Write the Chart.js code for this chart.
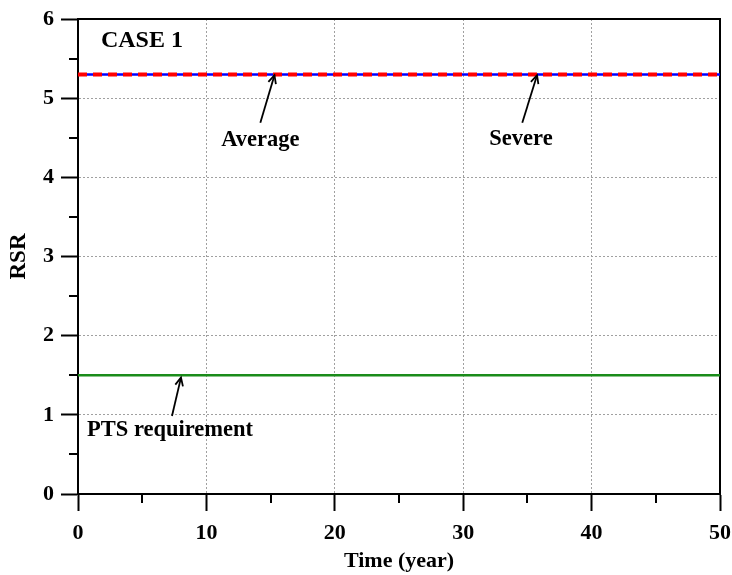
<!DOCTYPE html>
<html><head><meta charset="utf-8">
<script src="https://cdn.jsdelivr.net/npm/chart.js@4.4.1/dist/chart.umd.min.js"></script>
<style>html,body{margin:0;padding:0;background:#fff}#wrap{width:732px;height:575px;position:relative}</style>
</head><body><div id="wrap"><canvas id="c" width="732" height="575"></canvas></div>
<script>
const YEARS    = [0, 5, 10, 15, 20, 25, 30, 35, 40, 45, 50];
const AVERAGE  = [5.3, 5.3, 5.3, 5.3, 5.3, 5.3, 5.3, 5.3, 5.3, 5.3, 5.3];
const SEVERE   = [5.3, 5.3, 5.3, 5.3, 5.3, 5.3, 5.3, 5.3, 5.3, 5.3, 5.3];
const PTS_REQ  = [1.5, 1.5, 1.5, 1.5, 1.5, 1.5, 1.5, 1.5, 1.5, 1.5, 1.5];
const X_TICKS  = [0, 10, 20, 30, 40, 50];
const Y_TICKS  = [0, 1, 2, 3, 4, 5, 6];
const X_MINOR  = [5, 15, 25, 35, 45];
const Y_MINOR  = [0.5, 1.5, 2.5, 3.5, 4.5, 5.5];
const LABELS   = ['CASE 1', 'Average', 'Severe', 'PTS requirement'];
const LABEL_AT = [[4.98, 5.73], [14.2, 4.47], [34.5, 4.48], [7.17, 0.80]];
const ARROWS   = [null, [[14.2, 4.69], [15.3, 5.29]], [[34.6, 4.69], [35.75, 5.29]], [[7.32, 0.985], [8.02, 1.47]]];

const FONT = 'Liberation Serif, Times New Roman, serif';
const pts = arr => YEARS.map((t, i) => ({x: t, y: arr[i]}));

const extras = {
  id: 'extras',
  afterDatasetsDraw(chart) {
    const {ctx, scales: {x, y}, chartArea: a} = chart;
    ctx.save();
    ctx.strokeStyle = '#000';
    ctx.lineWidth = 2;
    X_MINOR.forEach(v => {
      const px = Math.round(x.getPixelForValue(v));
      ctx.beginPath(); ctx.moveTo(px, a.bottom); ctx.lineTo(px, a.bottom + 9); ctx.stroke();
    });
    Y_MINOR.forEach(v => {
      const py = Math.round(y.getPixelForValue(v));
      ctx.beginPath(); ctx.moveTo(a.left, py); ctx.lineTo(a.left - 9, py); ctx.stroke();
    });
    ctx.fillStyle = '#000';
    ctx.textAlign = 'center';
    ctx.textBaseline = 'middle';
    LABELS.forEach((t, i) => {
      ctx.font = 'bold ' + (i === 0 ? 24 : 22.5) + 'px ' + FONT;
      ctx.fillText(t, x.getPixelForValue(LABEL_AT[i][0]), y.getPixelForValue(LABEL_AT[i][1]));
      const ar = ARROWS[i];
      if (!ar) return;
      const x0 = x.getPixelForValue(ar[0][0]), y0 = y.getPixelForValue(ar[0][1]);
      const x1 = x.getPixelForValue(ar[1][0]), y1 = y.getPixelForValue(ar[1][1]);
      ctx.lineWidth = 1.8;
      ctx.beginPath(); ctx.moveTo(x0, y0); ctx.lineTo(x1, y1); ctx.stroke();
      const ang = Math.atan2(y1 - y0, x1 - x0), L = 9, w = 0.45;
      ctx.beginPath();
      ctx.moveTo(x1 - L * Math.cos(ang - w), y1 - L * Math.sin(ang - w));
      ctx.lineTo(x1, y1);
      ctx.lineTo(x1 - L * Math.cos(ang + w), y1 - L * Math.sin(ang + w));
      ctx.stroke();
    });
    ctx.restore();
  }
};

const gridOpts = {
  color: '#a0a0a0', lineWidth: 1,
  drawTicks: true, tickLength: 17, tickColor: '#000', tickWidth: 2, tickBorderDash: []
};
const borderOpts = {display: true, color: '#000', width: 2, dash: [2, 2]};

new Chart(document.getElementById('c'), {
  type: 'line',
  data: {
    datasets: [
      {label: 'Severe', data: pts(SEVERE), borderColor: '#ff0000', borderWidth: 4, borderDash: [9, 6], pointRadius: 0, fill: false},
      {label: 'Average', data: pts(AVERAGE), borderColor: '#0000ff', borderWidth: 2.5, pointRadius: 0, fill: false},
      {label: 'PTS requirement', data: pts(PTS_REQ), borderColor: '#1a8c1a', borderWidth: 2.5, pointRadius: 0, fill: false}
    ]
  },
  options: {
    responsive: false,
    animation: false,
    devicePixelRatio: 1,
    layout: {padding: {left: 0, top: 19, right: 12, bottom: 0}},
    plugins: {legend: {display: false}, tooltip: {enabled: false}},
    scales: {
      x: {
        type: 'linear', position: 'bottom', min: 0, max: 50,
        afterBuildTicks: s => { s.ticks = X_TICKS.map(v => ({value: v})); },
        afterFit: s => { s.height = 81; s.paddingLeft = 0; s.paddingRight = 0; },
        grid: gridOpts,
        border: borderOpts,
        ticks: {color: '#000', font: {family: FONT, size: 22, weight: 'bold'}, padding: 9, maxRotation: 0},
        title: {display: true, text: 'Time (year)', color: '#000', font: {family: FONT, size: 22, weight: 'bold'}, padding: {top: 0, bottom: 0}}
      },
      y: {
        type: 'linear', position: 'left', min: 0, max: 6,
        afterBuildTicks: s => { s.ticks = Y_TICKS.map(v => ({value: v})); },
        afterFit: s => { s.width = 78; s.paddingTop = 0; s.paddingBottom = 0; },
        grid: gridOpts,
        border: borderOpts,
        ticks: {color: '#000', font: {family: FONT, size: 22, weight: 'bold'}, padding: 7},
        title: {display: true, text: 'RSR', color: '#000', font: {family: FONT, size: 23, weight: 'bold'}, padding: {top: 5, bottom: 0}}
      },
      x2: {
        type: 'linear', position: 'top', min: 0, max: 50,
        afterFit: s => { s.height = 0; },
        grid: {display: false, drawOnChartArea: false, drawTicks: false},
        border: {display: true, color: '#000', width: 2},
        ticks: {display: false}
      },
      y2: {
        type: 'linear', position: 'right', min: 0, max: 6,
        afterFit: s => { s.width = 0; },
        grid: {display: false, drawOnChartArea: false, drawTicks: false},
        border: {display: true, color: '#000', width: 2},
        ticks: {display: false}
      }
    }
  },
  plugins: [extras]
});
</script>
</body></html>
